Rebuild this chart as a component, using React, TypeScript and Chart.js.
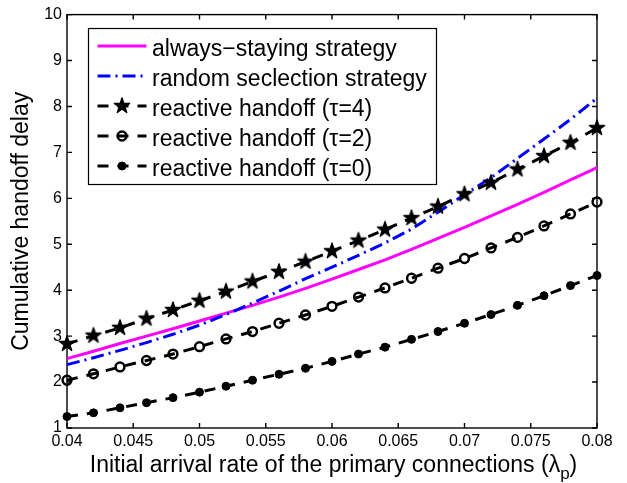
import React, { useEffect, useRef } from "react";
import { Chart, registerables } from "chart.js";
import { drawPoint } from "chart.js/helpers";

Chart.register(...registerables);

// Initial arrival rate of the primary connections (λp)
const arrivalRates = [
  0.04, 0.042, 0.044, 0.046, 0.048, 0.05, 0.052, 0.054, 0.056, 0.058, 0.06,
  0.062, 0.064, 0.066, 0.068, 0.07, 0.072, 0.074, 0.076, 0.078, 0.08,
];

// Cumulative handoff delay for each strategy
const alwaysStaying = [
  2.51, 2.67, 2.84, 3.0, 3.16, 3.33, 3.5, 3.67, 3.85, 4.04, 4.24, 4.45, 4.66,
  4.89, 5.13, 5.37, 5.62, 5.87, 6.13, 6.4, 6.67,
];
const randomSelection = [
  2.38, 2.53, 2.69, 2.86, 3.04, 3.24, 3.47, 3.72, 3.98, 4.25, 4.5, 4.76, 5.03,
  5.33, 5.7, 6.08, 6.45, 6.87, 7.29, 7.72, 8.18,
];
const reactiveTau4 = [
  2.83, 3.01, 3.18, 3.38, 3.57, 3.77, 3.97, 4.19, 4.4, 4.62, 4.85, 5.08, 5.32,
  5.57, 5.82, 6.09, 6.34, 6.63, 6.92, 7.21, 7.53,
];
const reactiveTau2 = [
  2.04, 2.18, 2.33, 2.47, 2.61, 2.77, 2.94, 3.1, 3.28, 3.46, 3.65, 3.85, 4.05,
  4.26, 4.48, 4.69, 4.92, 5.15, 5.4, 5.66, 5.92,
];
const reactiveTau0 = [
  1.25, 1.33, 1.44, 1.55, 1.66, 1.78, 1.91, 2.04, 2.17, 2.3, 2.45, 2.61, 2.76,
  2.93, 3.1, 3.28, 3.47, 3.67, 3.88, 4.1, 4.32,
];

const xTickValues = [0.04, 0.045, 0.05, 0.055, 0.06, 0.065, 0.07, 0.075, 0.08];
const yTickValues = [1, 2, 3, 4, 5, 6, 7, 8, 9, 10];

const seriesLabels = [
  "always\u2212staying strategy",
  "random seclection strategy",
  "reactive handoff (\u03c4=4)",
  "reactive handoff (\u03c4=2)",
  "reactive handoff (\u03c4=0)",
];

const yTitle = "Cumulative handoff delay";
const xTitleMain = "Initial arrival rate of the primary connections (\u03bb";
const xTitleSub = "p";
const xTitleEnd = ")";

const FONT = "'Liberation Sans', Arial, Helvetica, sans-serif";
const TITLE_SIZE = 23;

function makePentagram(R: number, color: string): HTMLCanvasElement {
  const size = Math.ceil(2 * R + 4);
  const c = document.createElement("canvas");
  c.width = size;
  c.height = size;
  const ctx = c.getContext("2d")!;
  const cx = size / 2;
  const cy = size / 2;
  const r = R * 0.382;
  ctx.beginPath();
  for (let i = 0; i < 10; i++) {
    const ang = -Math.PI / 2 + (i * Math.PI) / 5;
    const rad = i % 2 === 0 ? R : r;
    const px = cx + rad * Math.cos(ang);
    const py = cy + rad * Math.sin(ang);
    if (i === 0) ctx.moveTo(px, py);
    else ctx.lineTo(px, py);
  }
  ctx.closePath();
  ctx.fillStyle = color;
  ctx.fill();
  ctx.strokeStyle = color;
  ctx.lineWidth = 1.4;
  ctx.lineJoin = "round";
  ctx.stroke();
  return c;
}

const pairs = (ys: number[]) => arrivalRates.map((x, i) => ({ x, y: ys[i] }));

// Box around the axes with inward-pointing ticks on all four sides
const axesBoxPlugin = {
  id: "axesBox",
  beforeDatasetsDraw(chart: any) {
    const { ctx, chartArea } = chart;
    const { left, right, top, bottom } = chartArea;
    const xs = chart.scales.x;
    const ys = chart.scales.y;
    const tl = 5;
    ctx.save();
    ctx.strokeStyle = "#000";
    ctx.lineWidth = 1.4;
    ctx.strokeRect(left, top, right - left, bottom - top);
    ctx.beginPath();
    xs.ticks.forEach((t: any) => {
      const px = xs.getPixelForValue(t.value);
      ctx.moveTo(px, bottom);
      ctx.lineTo(px, bottom - tl);
      ctx.moveTo(px, top);
      ctx.lineTo(px, top + tl);
    });
    ys.ticks.forEach((t: any) => {
      const py = ys.getPixelForValue(t.value);
      ctx.moveTo(left, py);
      ctx.lineTo(left + tl, py);
      ctx.moveTo(right, py);
      ctx.lineTo(right - tl, py);
    });
    ctx.stroke();
    ctx.restore();
  },
};

// X axis title, with the subscript on lambda
const xTitlePlugin = {
  id: "xTitle",
  afterDraw(chart: any) {
    const { ctx, chartArea } = chart;
    ctx.save();
    ctx.fillStyle = "#000";
    ctx.textBaseline = "alphabetic";
    ctx.textAlign = "left";
    const mainFont = `${TITLE_SIZE}px ${FONT}`;
    const subFont = `17px ${FONT}`;
    ctx.font = mainFont;
    const wMain = ctx.measureText(xTitleMain).width;
    const wEnd = ctx.measureText(xTitleEnd).width;
    ctx.font = subFont;
    const wSub = ctx.measureText(xTitleSub).width;
    const total = wMain + wSub + wEnd;
    const cx = (chartArea.left + chartArea.right) / 2 + 1.5;
    let x = cx - total / 2;
    const baseline = 471.5;
    ctx.font = mainFont;
    ctx.fillText(xTitleMain, x, baseline);
    x += wMain;
    ctx.font = subFont;
    ctx.fillText(xTitleSub, x, baseline + 7);
    x += wSub;
    ctx.font = mainFont;
    ctx.fillText(xTitleEnd, x, baseline);
    ctx.restore();
  },
};

// Boxed legend in the upper-left part of the axes
const legendBoxPlugin = {
  id: "legendBox",
  afterDatasetsDraw(chart: any) {
    const { ctx } = chart;
    const boxL = 88.5;
    const boxT = 28.5;
    const boxR = 436.5;
    const boxB = 184.5;
    const lineX0 = 97.5;
    const lineX1 = 146.5;
    const textX = 152;
    const row0 = 46;
    const rowGap = 30;
    ctx.save();
    ctx.fillStyle = "#fff";
    ctx.fillRect(boxL, boxT, boxR - boxL, boxB - boxT);
    ctx.strokeStyle = "#000";
    ctx.lineWidth = 1.2;
    ctx.strokeRect(boxL, boxT, boxR - boxL, boxB - boxT);
    chart.data.datasets.forEach((ds: any, i: number) => {
      const y = row0 + i * rowGap;
      ctx.save();
      ctx.strokeStyle = ds.borderColor;
      ctx.lineWidth = ds.borderWidth;
      ctx.setLineDash(ds.borderDash || []);
      ctx.lineCap = "butt";
      ctx.beginPath();
      ctx.moveTo(lineX0, y);
      ctx.lineTo(lineX1, y);
      ctx.stroke();
      ctx.restore();
      if (ds.pointRadius > 0) {
        ctx.save();
        ctx.setLineDash([]);
        ctx.fillStyle = ds.pointBackgroundColor;
        ctx.strokeStyle = ds.pointBorderColor;
        ctx.lineWidth = ds.pointBorderWidth;
        drawPoint(
          ctx,
          {
            pointStyle: ds.pointStyle,
            radius: ds.pointRadius,
            borderWidth: ds.pointBorderWidth,
            rotation: 0,
          } as any,
          (lineX0 + lineX1) / 2,
          y
        );
        ctx.restore();
      }
      ctx.fillStyle = "#000";
      ctx.font = `${TITLE_SIZE}px ${FONT}`;
      ctx.textBaseline = "alphabetic";
      ctx.textAlign = "left";
      ctx.fillText(seriesLabels[i], textX, y + 9.5);
    });
    ctx.restore();
  },
};

export default function App() {
  const canvasRef = useRef<HTMLCanvasElement | null>(null);

  useEffect(() => {
    const canvas = canvasRef.current;
    if (!canvas) return;
    const star = makePentagram(8, "#000");
    const black = "#000000";
    const dash = [11, 9];

    const chart = new Chart(canvas, {
      type: "line",
      data: {
        datasets: [
          {
            label: seriesLabels[0],
            data: pairs(alwaysStaying),
            borderColor: "#ff00ff",
            backgroundColor: "#ff00ff",
            borderWidth: 3,
            pointRadius: 0,
            tension: 0,
            clip: false,
            order: 5,
          },
          {
            label: seriesLabels[1],
            data: pairs(randomSelection),
            borderColor: "#0000ff",
            backgroundColor: "#0000ff",
            borderWidth: 3,
            borderDash: [13, 5, 2, 5],
            pointRadius: 0,
            tension: 0,
            clip: false,
            order: 4,
          },
          {
            label: seriesLabels[2],
            data: pairs(reactiveTau4),
            borderColor: black,
            borderWidth: 3,
            borderDash: dash,
            pointStyle: star,
            pointRadius: 8,
            pointBorderWidth: 0,
            pointBorderColor: black,
            pointBackgroundColor: black,
            tension: 0,
            clip: false,
            order: 3,
          },
          {
            label: seriesLabels[3],
            data: pairs(reactiveTau2),
            borderColor: black,
            borderWidth: 3,
            borderDash: dash,
            pointStyle: "circle",
            pointRadius: 4.4,
            pointBorderWidth: 2.5,
            pointBorderColor: black,
            pointBackgroundColor: "rgba(0,0,0,0)",
            tension: 0,
            clip: false,
            order: 2,
          },
          {
            label: seriesLabels[4],
            data: pairs(reactiveTau0),
            borderColor: black,
            borderWidth: 3,
            borderDash: dash,
            pointStyle: "circle",
            pointRadius: 4,
            pointBorderWidth: 1,
            pointBorderColor: black,
            pointBackgroundColor: black,
            tension: 0,
            clip: false,
            order: 1,
          },
        ] as any,
      },
      options: {
        responsive: false,
        animation: false,
        devicePixelRatio: 1,
        font: { family: FONT },
        layout: { padding: { top: 14, right: 30, left: 0, bottom: 0 } },
        plugins: {
          legend: { display: false },
          tooltip: { enabled: false },
          title: { display: false },
        },
        scales: {
          x: {
            type: "linear",
            min: 0.04,
            max: 0.08,
            afterBuildTicks: (axis: any) => {
              axis.ticks = xTickValues.map((v) => ({ value: v }));
            },
            afterFit: (axis: any) => {
              axis.height = 55;
            },
            grid: { display: false, drawTicks: false },
            border: { display: false },
            ticks: {
              color: "#000",
              font: { family: FONT, size: 16 },
              padding: 3.5,
              maxRotation: 0,
              autoSkip: false,
              callback: (v: any) => String(+Number(v).toFixed(3)),
            },
          },
          y: {
            type: "linear",
            min: 1,
            max: 10,
            afterBuildTicks: (axis: any) => {
              axis.ticks = yTickValues.map((v) => ({ value: v }));
            },
            afterFit: (axis: any) => {
              axis.width = 67;
            },
            grid: { display: false, drawTicks: false },
            border: { display: false },
            ticks: {
              color: "#000",
              font: { family: FONT, size: 16 },
              padding: 5,
              autoSkip: false,
            },
            title: {
              display: true,
              text: yTitle,
              color: "#000",
              font: { family: FONT, size: TITLE_SIZE },
              padding: { top: 7.6, bottom: 0 },
            },
          },
        },
      } as any,
      plugins: [axesBoxPlugin, legendBoxPlugin, xTitlePlugin],
    });

    return () => {
      chart.destroy();
    };
  }, []);

  return (
    <div
      style={{
        position: "absolute",
        left: 0,
        top: 0,
        width: 627,
        height: 483,
        background: "#fff",
      }}
    >
      <canvas
        ref={canvasRef}
        width={627}
        height={483}
        style={{ display: "block", width: 627, height: 483 }}
      />
    </div>
  );
}
